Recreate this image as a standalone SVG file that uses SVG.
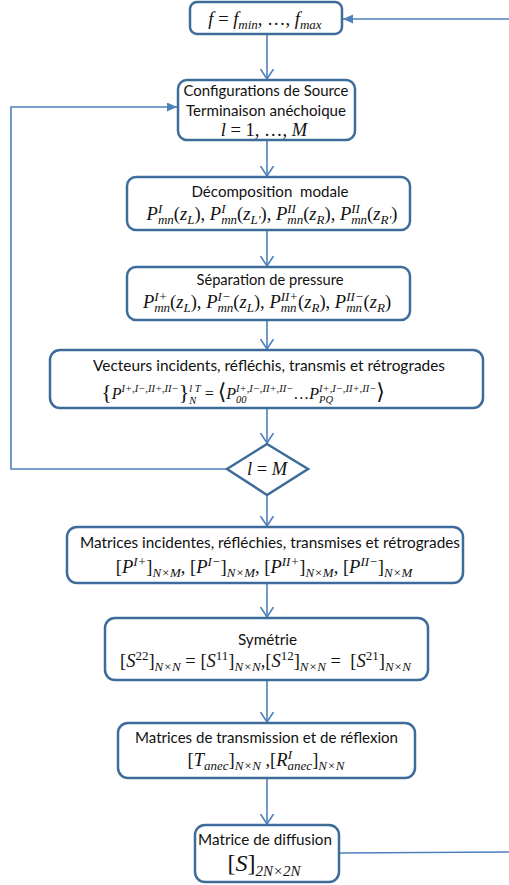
<svg xmlns="http://www.w3.org/2000/svg" width="509" height="885" viewBox="0 0 509 885">
<style>
.box{fill:#fff;stroke:#3D6B9A;stroke-width:2.5}
.con{fill:none;stroke:#4F81BD;stroke-width:1.6}
.t{font-family:Lato,"Liberation Sans",sans-serif;font-size:15px;fill:#111;text-anchor:middle}
.m{font-family:"Liberation Serif","DejaVu Serif",serif;font-style:italic;font-size:18.5px;fill:#111;text-anchor:middle}
.s{font-size:13px}
.s11{font-size:10.5px}
.n{font-style:normal}
.big{font-size:22px;font-style:normal}
</style>
<defs>
<marker id="open" markerWidth="12" markerHeight="15" refX="10" refY="6.5" orient="auto" markerUnits="userSpaceOnUse">
<path d="M0,0 L10,6.5 L0,13" fill="none" stroke="#4F81BD" stroke-width="1.6"/>
</marker>
<marker id="fill" markerWidth="12" markerHeight="10" refX="10" refY="4.5" orient="auto" markerUnits="userSpaceOnUse">
<path d="M0,0 L10,4.5 L0,9 z" fill="#4F81BD"/>
</marker>
</defs>
<g id="connectors">
<line class="con" x1="267" y1="34" x2="267" y2="79" marker-end="url(#open)"/>
<line class="con" x1="267" y1="140" x2="267" y2="176" marker-end="url(#open)"/>
<line class="con" x1="267" y1="230" x2="267" y2="266" marker-end="url(#open)"/>
<line class="con" x1="267" y1="320" x2="267" y2="349" marker-end="url(#open)"/>
<line class="con" x1="267" y1="408" x2="267" y2="443" marker-end="url(#open)"/>
<line class="con" x1="267" y1="495" x2="267" y2="526" marker-end="url(#open)"/>
<line class="con" x1="267" y1="583" x2="267" y2="617" marker-end="url(#open)"/>
<line class="con" x1="267" y1="680" x2="267" y2="722" marker-end="url(#open)"/>
<line class="con" x1="267" y1="778" x2="267" y2="824" marker-end="url(#open)"/>
<path class="con" d="M227,469 H11 V107 H177" marker-end="url(#fill)"/>
<line class="con" x1="509" y1="19" x2="343" y2="19" marker-end="url(#fill)"/>
<line class="con" x1="339" y1="853" x2="509" y2="852"/>
</g>
<g id="n1">
<rect class="box" x="190" y="2" width="152" height="32" rx="7"/>
<text class="m" x="265" y="25">f<tspan class="n"> = </tspan>f<tspan class="s" dy="4">min</tspan><tspan class="n" dy="-4">, …, </tspan>f<tspan class="s" dy="4">max</tspan></text>
</g>
<g id="n2">
<rect class="box" x="178" y="80" width="177" height="60" rx="9"/>
<text class="t" x="266" y="96" textLength="165" lengthAdjust="spacingAndGlyphs">Configurations de Source</text>
<text class="t" x="266" y="116" textLength="160" lengthAdjust="spacingAndGlyphs">Terminaison anéchoique</text>
<text class="m" x="264" y="136">l<tspan class="n"> = 1, …, </tspan>M</text>
</g>
<g id="n3">
<rect class="box" x="127" y="177" width="283" height="53" rx="9"/>
<text class="t" x="270" y="197" textLength="157" lengthAdjust="spacingAndGlyphs">Décomposition &#160;modale</text>
<text class="m" x="272" y="220">P<tspan class="s" dy="4">mn</tspan><tspan class="s" dx="-15.9" dy="-11">I</tspan><tspan class="n" dx="11.6" dy="7">(</tspan>z<tspan class="s" dy="4">L</tspan><tspan class="n" dy="-4">), </tspan>P<tspan class="s" dy="4">mn</tspan><tspan class="s" dx="-15.9" dy="-11">I</tspan><tspan class="n" dx="11.6" dy="7">(</tspan>z<tspan class="s" dy="4">L′</tspan><tspan class="n" dy="-4">), </tspan>P<tspan class="s" dy="4">mn</tspan><tspan class="s" dx="-15.9" dy="-11">II</tspan><tspan class="n" dx="7.2" dy="7">(</tspan>z<tspan class="s" dy="4">R</tspan><tspan class="n" dy="-4">), </tspan>P<tspan class="s" dy="4">mn</tspan><tspan class="s" dx="-15.9" dy="-11">II</tspan><tspan class="n" dx="7.2" dy="7">(</tspan>z<tspan class="s" dy="4">R′</tspan><tspan class="n" dy="-4">)</tspan></text>
</g>
<g id="n4">
<rect class="box" x="127" y="267" width="283" height="53" rx="9"/>
<text class="t" x="270" y="285" textLength="147" lengthAdjust="spacingAndGlyphs">Séparation de pressure</text>
<text class="m" x="267" y="308">P<tspan class="s" dy="4">mn</tspan><tspan class="s" dx="-15.9" dy="-11">I+</tspan><tspan class="n" dx="2.8" dy="7">(</tspan>z<tspan class="s" dy="4">L</tspan><tspan class="n" dy="-4">), </tspan>P<tspan class="s" dy="4">mn</tspan><tspan class="s" dx="-15.9" dy="-11">I−</tspan><tspan class="n" dx="2.8" dy="7">(</tspan>z<tspan class="s" dy="4">L</tspan><tspan class="n" dy="-4">), </tspan>P<tspan class="s" dy="4">mn</tspan><tspan class="s" dx="-15.9" dy="-11">II+</tspan><tspan class="n" dy="7">(</tspan>z<tspan class="s" dy="4">R</tspan><tspan class="n" dy="-4">), </tspan>P<tspan class="s" dy="4">mn</tspan><tspan class="s" dx="-15.9" dy="-11">II−</tspan><tspan class="n" dy="7">(</tspan>z<tspan class="s" dy="4">R</tspan><tspan class="n" dy="-4">)</tspan></text>
</g>
<g id="n5">
<rect class="box" x="50" y="350" width="433" height="58" rx="10"/>
<text class="t" x="269" y="371" textLength="352" lengthAdjust="spacingAndGlyphs">Vecteurs incidents, réfléchis, transmis et rétrogrades</text>
<text class="m" x="243" y="399" style="font-size:16px"><tspan class="big">{</tspan>P<tspan class="s11" dy="-7">I+,I−,II+,II−</tspan><tspan class="big" dy="7">}</tspan><tspan class="s11" dy="5">N</tspan><tspan class="s11" dx="-7" dy="-12">l T</tspan><tspan class="n" dy="7"> = </tspan><tspan class="big">⟨</tspan>P<tspan class="s11" dy="4">00</tspan><tspan class="s11" dx="-10.5" dy="-11">I+,I−,II+,II−</tspan><tspan class="n" dy="7">…</tspan>P<tspan class="s11" dy="4">PQ</tspan><tspan class="s11" dx="-14" dy="-11">I+,I−,II+,II−</tspan><tspan class="big" dy="7">⟩</tspan></text>
</g>
<g id="n6">
<polygon class="box" points="267,444 308,469 267,495 227,469"/>
<text class="m" x="267" y="475">l<tspan class="n"> = </tspan>M</text>
</g>
<g id="n7">
<rect class="box" x="67" y="527" width="396" height="56" rx="10"/>
<text class="t" x="270" y="548" textLength="380" lengthAdjust="spacingAndGlyphs">Matrices incidentes, réfléchies, transmises et rétrogrades</text>
<text class="m" x="264" y="573"><tspan class="n">[</tspan>P<tspan class="s" dy="-7">I+</tspan><tspan class="n" dy="7">]</tspan><tspan class="s" dy="4">N×M</tspan><tspan class="n" dy="-4">, [</tspan>P<tspan class="s" dy="-7">I−</tspan><tspan class="n" dy="7">]</tspan><tspan class="s" dy="4">N×M</tspan><tspan class="n" dy="-4">, [</tspan>P<tspan class="s" dy="-7">II+</tspan><tspan class="n" dy="7">]</tspan><tspan class="s" dy="4">N×M</tspan><tspan class="n" dy="-4">, [</tspan>P<tspan class="s" dy="-7">II−</tspan><tspan class="n" dy="7">]</tspan><tspan class="s" dy="4">N×M</tspan></text>
</g>
<g id="n8">
<rect class="box" x="105" y="618" width="323" height="62" rx="10"/>
<text class="t" x="267.5" y="645" textLength="59" lengthAdjust="spacingAndGlyphs">Symétrie</text>
<text class="m" x="265.5" y="667"><tspan class="n">[</tspan>S<tspan class="s n" dy="-7">22</tspan><tspan class="n" dy="7">]</tspan><tspan class="s" dy="4">N×N</tspan><tspan class="n" dy="-4"> = [</tspan>S<tspan class="s n" dy="-7">11</tspan><tspan class="n" dy="7">]</tspan><tspan class="s" dy="4">N×N</tspan><tspan class="n" dy="-4">,[</tspan>S<tspan class="s n" dy="-7">12</tspan><tspan class="n" dy="7">]</tspan><tspan class="s" dy="4">N×N</tspan><tspan class="n" dy="-4"> = &#160;[</tspan>S<tspan class="s n" dy="-7">21</tspan><tspan class="n" dy="7">]</tspan><tspan class="s" dy="4">N×N</tspan></text>
</g>
<g id="n9">
<rect class="box" x="118" y="723" width="297" height="55" rx="10"/>
<text class="t" x="266.5" y="743" textLength="263" lengthAdjust="spacingAndGlyphs">Matrices de transmission et de réflexion</text>
<text class="m" x="266" y="766"><tspan class="n">[</tspan>T<tspan class="s" dy="4">anec</tspan><tspan class="n" dy="-4">]</tspan><tspan class="s" dy="4">N×N</tspan><tspan class="n" dy="-4"> ,[</tspan>R<tspan class="s" dy="4">anec</tspan><tspan class="s" dx="-24.5" dy="-11">I</tspan><tspan class="n" dx="20.2" dy="7">]</tspan><tspan class="s" dy="4">N×N</tspan></text>
</g>
<g id="n10">
<rect class="box" x="195" y="825" width="144" height="57" rx="10"/>
<text class="t" x="265" y="845" textLength="134" lengthAdjust="spacingAndGlyphs">Matrice de diffusion</text>
<text class="m" x="264" y="871" style="font-size:24px"><tspan class="n">[</tspan>S<tspan class="n">]</tspan><tspan dy="5" style="font-size:15px">2N×2N</tspan></text>
</g>
</svg>
